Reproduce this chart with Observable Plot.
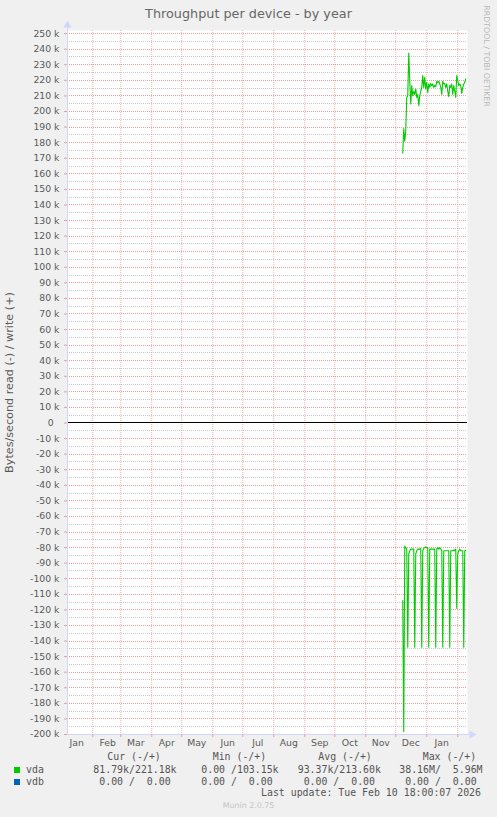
<!DOCTYPE html>
<html><head><meta charset="utf-8">
<script src="https://cdn.jsdelivr.net/npm/d3@7"></script>
<script src="https://cdn.jsdelivr.net/npm/@observablehq/plot@0.6"></script>
<style>
html,body{margin:0;padding:0;background:#f0f0f0;}
#wrap{position:relative;width:497px;height:817px;overflow:hidden;background:#f0f0f0;font-family:"DejaVu Sans",sans-serif;color:#5a5a5a;}
#chart{position:absolute;left:0;top:0;}
.abs{position:absolute;white-space:pre;}
.mono{font-family:"DejaVu Sans Mono",monospace;font-size:9.9px;line-height:12px;color:#555;}
#title{left:0;width:497px;text-align:center;top:6px;font-size:12.8px;line-height:16px;color:#666;}
#rrd{left:485.7px;top:56px;font-size:7.9px;line-height:10px;color:#b8b8b8;transform:translate(-50%,-50%) rotate(90deg);}
#munin{left:0;width:497px;text-align:center;top:801px;font-size:7.9px;line-height:10px;color:#c4c4c4;}
.sw{position:absolute;width:6px;height:6px;}
</style></head><body>
<div id="wrap">
  <div id="chart"></div>
  <div class="abs" id="title">Throughput per device - by year</div>
  <div class="abs" id="rrd">RRDTOOL / TOBI OETIKER</div>
  <div id="legend"></div>
  <div class="abs" id="munin">Munin 2.0.75</div>
</div>
<script>
// ---- data ----
const periodStart = "2025-01-06T18:00:00Z";
const periodEnd = "2026-02-10T18:00:00Z";
const seriesStart = "2025-12-08T00:00:00Z";
const months = ["Jan","Feb","Mar","Apr","May","Jun","Jul","Aug","Sep","Oct","Nov","Dec"];
// vda write (k bytes/s), one value per day
const vdaWrite = [173.3,189,181,187.6,209,210,237.6,219.8,204.8,216.6,210,213,211,214.4,209,211,203.7,210,213,215.5,223,215.5,222,214.4,218.7,212,217.7,215.5,218,216.6,217.7,215.5,216.6,216,219.4,218.7,219.4,217.7,215.5,211,219.4,217.7,218,215.5,217.7,213,209.5,216.6,215.5,217.7,211,216.6,213,209,223,219.8,216.6,217.7,216.6,211.6,215.5,217.7,218.7,221];
// vda read (k bytes/s), drawn as negative
const vdaRead = [114,198,79,80,81,144,84,82,81,81,81,81,144,84,82,81,81,81,80.5,144,82,80.5,80,79.5,80,80,144,81,81,81,81,81,81,144,81,80,81,80,81,81.5,144,82,82,82,82,82,82,144,82,82,82,81.5,82,81,119,84,82,81,82,82,82,144,82,81.8];
const yMin = -200000, yMax = 252000, yStep = 10000;
const yLabel = "Bytes/second read (-) / write (+)";
const legendHeaders = ["Cur (-/+)","Min (-/+)","Avg (-/+)","Max (-/+)"];
const legendNames = ["vda","vdb"];
const legendColors = ["#00cc00","#0066b3"];
const legendCur = [" 81.79k/221.18k","  0.00 /  0.00 "];
const legendMin = ["  0.00 /103.15k","  0.00 /  0.00 "];
const legendAvg = [" 93.37k/213.60k","  0.00 /  0.00 "];
const legendMax = [" 38.16M/  5.96M","  0.00 /  0.00 "];
const lastUpdate = "Last update: Tue Feb 10 18:00:07 2026";

// ---- build ----
const x0 = new Date(periodStart), x1 = new Date(periodEnd);
const s0 = new Date(seriesStart);
const days = d3.utcDay.range(s0, d3.utcDay.offset(s0, vdaWrite.length));
const rows = days.flatMap((d, i) => [
  {date: d, v: vdaWrite[i] * 1000, s: "write"},
  {date: d, v: -vdaRead[i] * 1000, s: "read"}
]);
const monthStarts = d3.utcMonth.range(x0, x1);
const monthMids = d3.utcMonth.range(d3.utcMonth.floor(x0), x1)
  .map(m => d3.utcDay.offset(m, 15)).filter(d => d >= x0 && d <= x1);
const yMajor = d3.range(yMin, 250001, yStep);
const yMinor = d3.range(yMin + yStep / 2, 250000, yStep);
const arrowEnd = d3.utcHour.offset(x1, 48);
const arrowRight = d3.utcHour.offset(x1, 103);
const axisCol = "#cfd6f8", major = "#f09a9a", minor = "#c8c8c8";
const fmtY = v => v === 0 ? "0\u00a0\u00a0" : `${v / 1000} k`;

const chart = Plot.plot({
  width: 497, height: 760,
  marginLeft: 67, marginRight: 30, marginTop: 30, marginBottom: 26,
  style: {background: "transparent", fontFamily: "DejaVu Sans", fontSize: "9.3px", color: "#5a5a5a", overflow: "visible"},
  x: {type: "utc", domain: [x0, x1]},
  y: {domain: [yMin, yMax]},
  marks: [
    Plot.frame({fill: "white", stroke: "none"}),
    Plot.ruleY(yMinor, {stroke: minor, strokeDasharray: "1,1", shapeRendering: "crispEdges"}),
    Plot.ruleY(yMajor, {stroke: major, strokeDasharray: "1,1", shapeRendering: "crispEdges"}),
    Plot.ruleX(monthStarts, {stroke: major, strokeDasharray: "1,1", strokeOpacity: 0.8}),
    Plot.ruleY([0], {stroke: "#000", shapeRendering: "crispEdges"}),
    Plot.line(rows, {x: "date", y: "v", z: "s", stroke: "#00cc00", strokeWidth: 1.1}),
    Plot.ruleY([yMin], {x1: () => x0, x2: () => arrowEnd, stroke: axisCol, shapeRendering: "crispEdges"}),
    Plot.ruleX([x0], {y1: () => yMin, y2: () => 254000, stroke: axisCol, shapeRendering: "crispEdges"}),
    Plot.dot([{x: x0, y: 255500, a: 0}, {x: arrowRight, y: yMin, a: 90}],
      {x: "x", y: "y", rotate: "a", symbol: "triangle", r: 3, fill: axisCol, stroke: "none"}),
    Plot.axisY({ticks: yMajor, tickSize: 3, tickPadding: 5, stroke: major,
      tickFormat: fmtY, label: null}),
    Plot.axisY({ticks: [], label: yLabel, labelAnchor: "center", labelOffset: 62,
      labelArrow: "none", fontSize: 11.2}),
    Plot.axisX({ticks: monthStarts, tickSize: 3, tickFormat: () => "", stroke: major, label: null}),
    Plot.axisX({ticks: monthMids, tickSize: 0, tickPadding: 5,
      tickFormat: d => months[d.getUTCMonth()], label: null})
  ]
});
document.getElementById("chart").append(chart);

// legend
const lg = document.getElementById("legend");
function addText(txt, left, centerY, cls) {
  const el = document.createElement("div");
  el.className = "abs " + cls;
  el.textContent = txt;
  el.style.left = left + "px";
  el.style.top = (centerY - 6) + "px";
  lg.append(el);
}
const headerX = [107.3, 212.7, 318.3, 422.7];
const colX = [87.4, 189.4, 291.75, 393.35];
const rowY = [770, 781.7];
legendHeaders.forEach((h, i) => addText(h, headerX[i], 757.3, "mono"));
legendNames.forEach((n, r) => {
  const sw = document.createElement("div");
  sw.className = "sw";
  sw.style.background = legendColors[r];
  sw.style.left = "14px";
  sw.style.top = (rowY[r] - 3) + "px";
  lg.append(sw);
  addText(n, 26, rowY[r], "mono");
  [legendCur, legendMin, legendAvg, legendMax].forEach((col, c) => addText(col[r], colX[c], rowY[r], "mono"));
});
addText(lastUpdate, 261, 793.3, "mono");
</script>
</body></html>
